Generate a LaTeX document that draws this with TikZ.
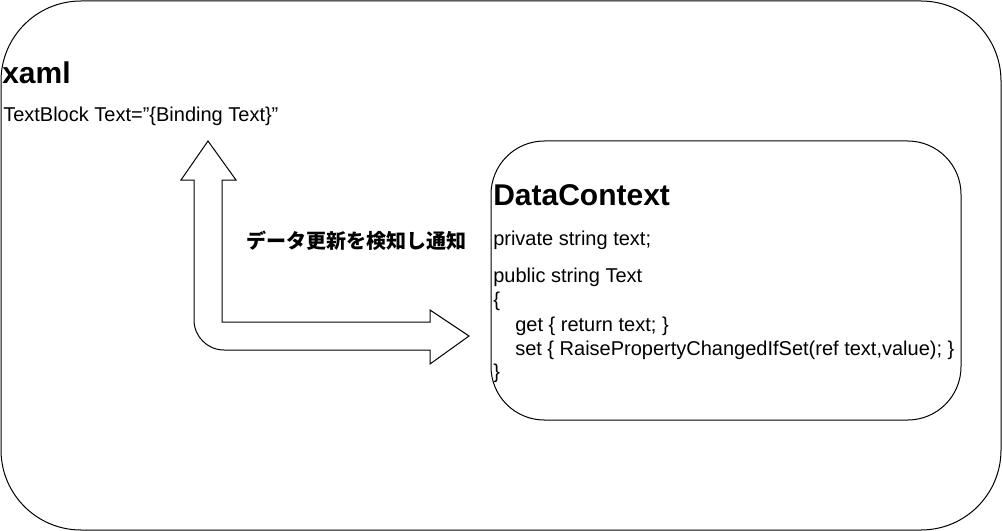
\documentclass[tikz,border=0pt]{standalone}
\usepackage{fontspec}
\setmainfont{Liberation Sans}
\newfontfamily\cjk{Noto Sans CJK JP}
\begin{document}
\begin{tikzpicture}[x=0.75pt,y=-0.75pt,
  box/.style={draw=black,line width=0.75pt},
  t/.style={anchor=west,inner sep=0pt,font=\fontsize{15}{17}\selectfont},
  h/.style={anchor=west,inner sep=0pt,font=\fontsize{22.5}{25}\selectfont\bfseries}]
\useasboundingbox (0,0) rectangle (1002,531);
\draw[box,rounded corners=60] (1,1) rectangle (1001,530);
\draw[box,rounded corners=40] (491,141) rectangle (961,420);
\node[h] (xaml) at (2,73) {xaml};
\node[t] (tb) at (3,116) {TextBlock Text=\char"22\{Binding Text\}\char"22};
\node[h] (dc) at (493,195) {DataContext};
\node[t] (l1) at (493,240) {private string text;};
\node[t] (l2) at (493,277) {public string Text};
\node[t] (l3) at (493,301) {\{};
\node[t] (l4) at (493,326) {\hspace{16.5pt}get \{ return text; \}};
\node[t] (l5) at (493,350) {\hspace{16.5pt}set \{ RaisePropertyChangedIfSet(ref text,value); \}};
\node[t] (l6) at (493,373) {\}};
\node[anchor=west,inner sep=0pt,font=\cjk\fontsize{15}{17}\selectfont\bfseries] (lbl) at (246,241) {データ更新を検知し通知};
\draw[box,fill=white] (208,141) -- (236,180) -- (222,180) -- (222,322) -- (430,322) -- (430,310) -- (469,336) -- (430,364) -- (430,350) -- (224,350) arc[start angle=90,end angle=180,radius=30] -- (194,180) -- (181,180) -- cycle;
\end{tikzpicture}
\end{document}
